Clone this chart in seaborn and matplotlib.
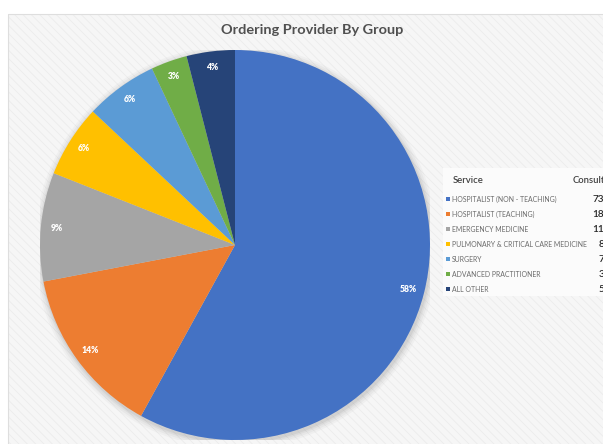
import matplotlib
matplotlib.use("Agg")
import matplotlib.pyplot as plt
from matplotlib.patches import Rectangle, Circle
import seaborn as sns

sns.set_theme(style="white")
plt.rcParams["font.family"] = ["Lato", "DejaVu Sans"]
plt.rcParams["hatch.linewidth"] = 0.6

# Ordering provider groups, consult counts and share of all consults (%)
services = [
    "HOSPITALIST (NON - TEACHING)",
    "HOSPITALIST (TEACHING)",
    "EMERGENCY MEDICINE",
    "PULMONARY & CRITICAL CARE MEDICINE",
    "SURGERY",
    "ADVANCED PRACTITIONER",
    "ALL OTHER",
]
consults = [73, 18, 11, 8, 7, 3, 5]
share_pct = [58, 14, 9, 6, 6, 3, 4]
colors = sns.color_palette(["#4472C4", "#ED7D31", "#A5A5A5", "#FFC000",
                            "#5B9BD5", "#70AD47", "#264478"])

W, H = 603, 444
fig = plt.figure(figsize=(W / 100, H / 100), dpi=100)
fig.patch.set_facecolor("white")
renderer = fig.canvas.get_renderer()


def fx(px):
    return px / W


def fy(py):
    return 1 - py / H


def fit_width(text, width_px):
    """Scale a text's font size so it spans width_px pixels."""
    size = text.get_fontsize()
    w = text.get_window_extent(renderer).width
    text.set_fontsize(size * width_px / w)
    return text.get_fontsize()


# chart panel with faint diagonal texture
bg = fig.add_axes([0, 0, 1, 1])
bg.set_xlim(0, W)
bg.set_ylim(H, 0)
bg.axis("off")
bg.add_patch(Rectangle((8, 14), W, H, facecolor="#f6f6f6", edgecolor="#ececec",
                       hatch="\\\\\\\\", linewidth=0))
bg.add_patch(Rectangle((8, 14), W, H, facecolor="none", edgecolor="#dedede",
                       linewidth=0.8))
# white panel behind the service table
bg.add_patch(Rectangle((443, 168), 170, 128, facecolor="#fbfbfb",
                       edgecolor="none"))

title = bg.text(312, 30, "Ordering Provider By Group", ha="center",
                va="center", fontsize=10.4, fontweight="bold", color="#505050")
fit_width(title, 181)

# pie
cx, cy, r = 235, 245, 195
ax = fig.add_axes([fx(cx - r), fy(cy + r), 2 * r / W, 2 * r / H])
ax.set_aspect("equal")
for dr, a in [(0.035, 0.05), (0.025, 0.07), (0.015, 0.09), (0.007, 0.12)]:
    ax.add_patch(Circle((0.005, -0.01), 1 + dr, facecolor="#808080", alpha=a,
                        edgecolor="none", zorder=0))
wedges, texts, autotexts = ax.pie(
    share_pct, colors=colors, startangle=90, counterclock=False,
    autopct="%1.0f%%", pctdistance=0.92, radius=1,
    wedgeprops=dict(linewidth=0),
    textprops=dict(color="white", fontsize=6.2, fontweight="heavy"),
)
ax.set_xlim(-1, 1)
ax.set_ylim(-1, 1)
ax.axis("off")

# service table acting as legend
bg.text(453, 180, "Service", ha="left", va="center", fontsize=6.8,
        fontweight="semibold", color="#404040")
bg.text(573, 180, "Consult", ha="left", va="center", fontsize=6.8,
        fontweight="semibold", color="#404040", clip_on=False)
y0, dy = 199, 15
labels = []
for i, (s, n, c) in enumerate(zip(services, consults, colors)):
    y = y0 + i * dy
    bg.add_patch(Rectangle((446, y - 2.2), 4.4, 4.4, facecolor=c,
                           edgecolor="none"))
    labels.append(bg.text(452, y, s, ha="left", va="center", fontsize=6.0,
                          color="#6b6b6b"))
    bg.text(604, y, str(n), ha="right", va="center", fontsize=7.2,
            fontweight="semibold", color="#262626")

# one shared size, set by the longest service name
longest = max(labels, key=lambda t: len(t.get_text()))
size = fit_width(longest, 134)
for t in labels:
    t.set_fontsize(size)

fig.savefig("out.png", dpi=100)
